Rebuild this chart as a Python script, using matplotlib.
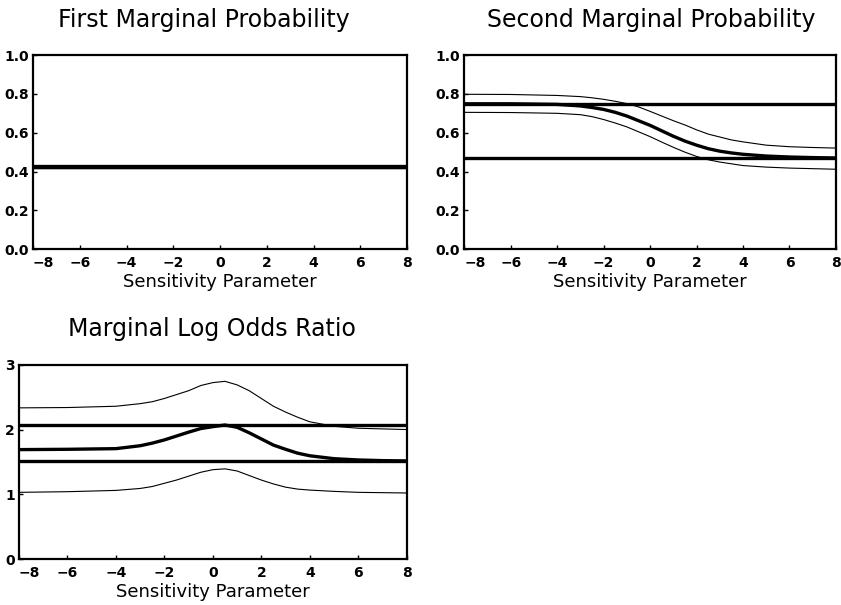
import numpy as np
import matplotlib
matplotlib.use("Agg")
import matplotlib.pyplot as plt

# puntos del parametro de sensibilidad
x = [-8, -6, -4, -3, -2.5, -2, -1.5, -1, -0.5, 0, 0.5, 1, 1.5, 2, 2.5, 3, 3.5, 4, 5, 6, 7, 8]

# primera marginal (todo casi plano)
p1_est = [0.425] * len(x)
p1_hi = [0.427] * len(x)
p1_lo = [0.423] * len(x)
p1_bounds = [0.423, 0.427]

# segunda marginal
p2_est = [0.749, 0.749, 0.746, 0.738, 0.730, 0.720, 0.705, 0.686, 0.662, 0.638, 0.610, 0.582,
          0.557, 0.536, 0.518, 0.505, 0.496, 0.489, 0.480, 0.475, 0.472, 0.470]
p2_hi = [0.798, 0.797, 0.792, 0.786, 0.780, 0.772, 0.762, 0.750, 0.733, 0.710, 0.686, 0.662,
         0.640, 0.615, 0.593, 0.578, 0.563, 0.553, 0.536, 0.528, 0.524, 0.521]
p2_lo = [0.705, 0.704, 0.700, 0.693, 0.683, 0.668, 0.650, 0.630, 0.605, 0.580, 0.552, 0.525,
         0.500, 0.478, 0.461, 0.449, 0.440, 0.431, 0.423, 0.418, 0.415, 0.412]
p2_bounds = [0.468, 0.750]

# log odds ratio marginal
lor_est = [1.69, 1.695, 1.705, 1.75, 1.79, 1.84, 1.90, 1.96, 2.015, 2.045, 2.07, 2.035,
           1.95, 1.855, 1.76, 1.695, 1.635, 1.595, 1.55, 1.53, 1.52, 1.515]
lor_hi = [2.335, 2.34, 2.36, 2.40, 2.43, 2.48, 2.54, 2.60, 2.68, 2.725, 2.745, 2.69,
          2.60, 2.48, 2.36, 2.27, 2.19, 2.12, 2.05, 2.02, 2.01, 2.00]
lor_lo = [1.03, 1.04, 1.06, 1.09, 1.12, 1.17, 1.22, 1.28, 1.34, 1.38, 1.393, 1.36,
          1.29, 1.22, 1.16, 1.11, 1.08, 1.065, 1.045, 1.03, 1.025, 1.02]
lor_bounds = [1.51, 2.066]

xticks = [-8, -6, -4, -2, 0, 2, 4, 6, 8]

fig = plt.figure(figsize=(8.41, 6.05), dpi=100)
ax1 = fig.add_axes([0.0392, 0.588, 0.445, 0.321])
ax2 = fig.add_axes([0.552, 0.588, 0.442, 0.321])
ax3 = fig.add_axes([0.0226, 0.076, 0.461, 0.321])

def panel(ax, est, hi, lo, bounds, ylim, yticks, ylabs):
    for b in bounds:
        ax.axhline(b, color="black", lw=2.4)
    ax.plot(x, hi, color="black", lw=0.8)
    ax.plot(x, lo, color="black", lw=0.8)
    ax.plot(x, est, color="black", lw=2.4)
    ax.set_xlim(-8, 8)
    ax.set_ylim(*ylim)
    ax.set_xticks(xticks)
    ax.set_yticks(yticks)
    ax.set_yticklabels(ylabs, fontsize=10, fontweight="bold")
    ax.set_xticklabels([str(t).replace("-", "\u2212") for t in xticks],
                       fontsize=10, fontweight="bold")
    ax.get_xticklabels()[0].set_horizontalalignment("left")
    ax.tick_params(direction="in", length=3, width=1, pad=5)
    ax.tick_params(axis="y", pad=3)
    for s in ax.spines.values():
        s.set_linewidth(1.6)
    ax.set_xlabel("Sensitivity Parameter", fontsize=13, labelpad=2)

probs = [0, 0.2, 0.4, 0.6, 0.8, 1.0]
plabs = ["%.1f" % v for v in probs]
panel(ax1, p1_est, p1_hi, p1_lo, p1_bounds, (0, 1), probs, plabs)
panel(ax2, p2_est, p2_hi, p2_lo, p2_bounds, (0, 1), probs, plabs)
panel(ax3, lor_est, lor_hi, lor_lo, lor_bounds, (0, 3), [0, 1, 2, 3], ["0", "1", "2", "3"])

fig.text(0.242, 0.967, "First Marginal Probability", ha="center", va="center", fontsize=17)
fig.text(0.774, 0.967, "Second Marginal Probability", ha="center", va="center", fontsize=17)
fig.text(0.252, 0.456, "Marginal Log Odds Ratio", ha="center", va="center", fontsize=17)

fig.savefig("out.png", dpi=100)
